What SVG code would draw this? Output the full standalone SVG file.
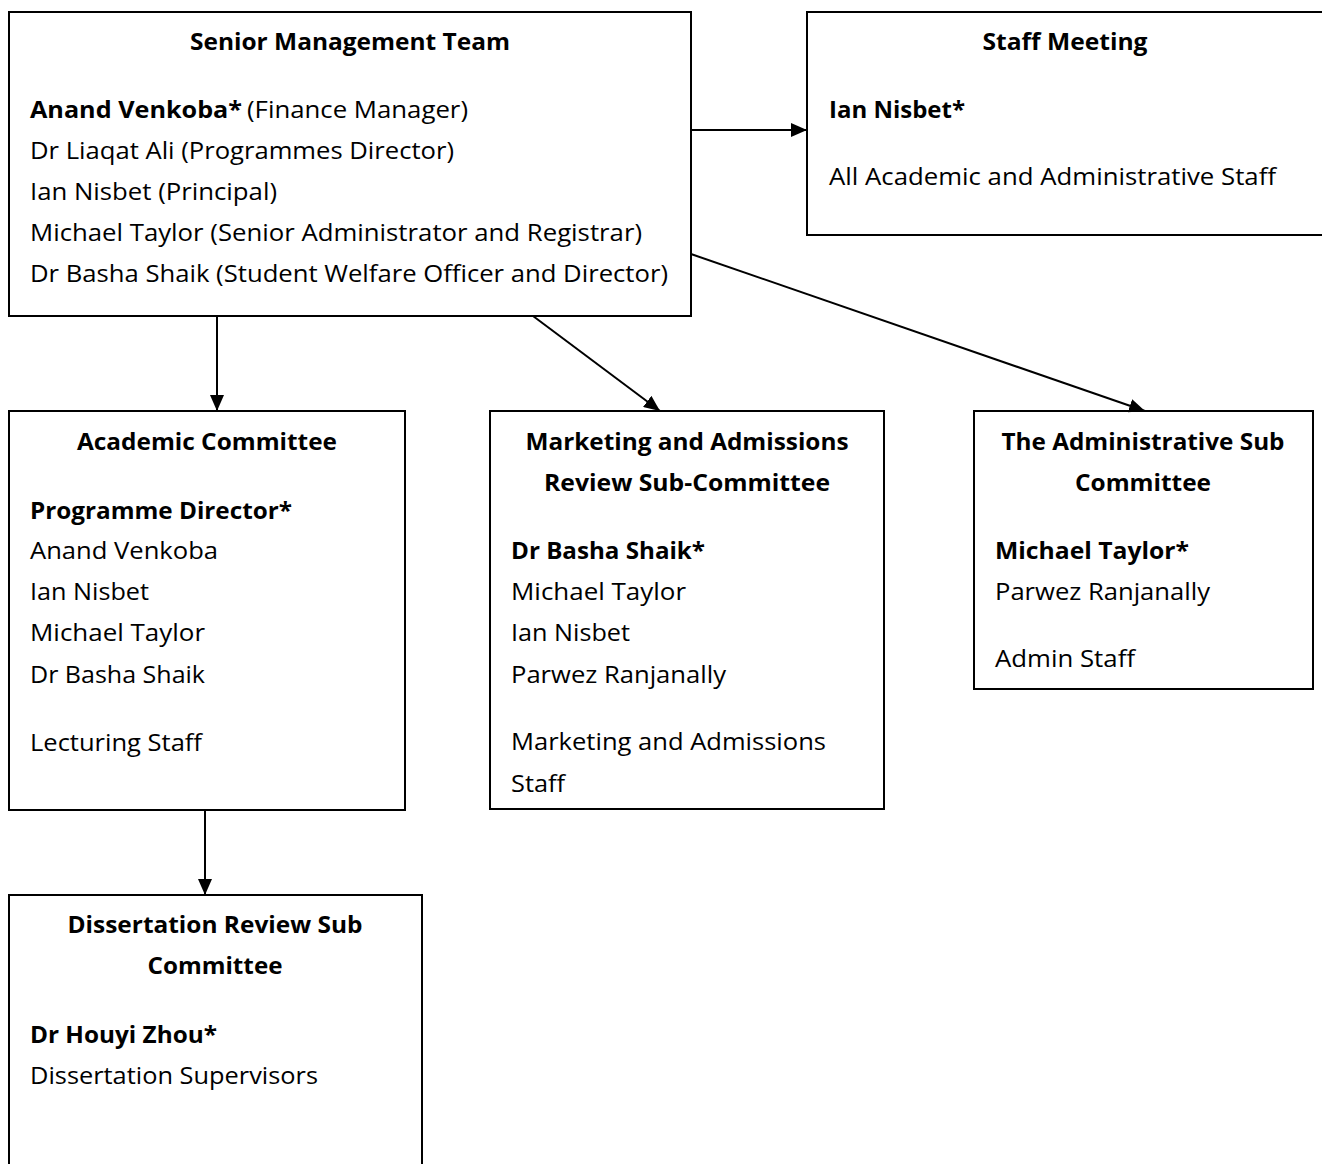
<svg xmlns="http://www.w3.org/2000/svg" width="1322" height="1164" viewBox="0 0 1322 1164">
<style>
text{font-family:"Open Sans","Liberation Sans",Arial,sans-serif;font-size:23px;fill:#000}
.b{font-weight:bold}
.c{text-anchor:middle}
rect{fill:#fff;stroke:#000;stroke-width:2}
.e line{stroke:#000;stroke-width:2;marker-end:url(#ah)}
</style>
<defs>
<marker id="ah" viewBox="0 0 10 10" refX="10" refY="5" markerWidth="16" markerHeight="14" markerUnits="userSpaceOnUse" orient="auto" preserveAspectRatio="none">
<path d="M0,0 L10,5 L0,10 z" fill="#000"/>
</marker>
</defs>
<rect x="0" y="0" width="1322" height="1164" style="stroke:none"/>
<g id="smt">
<rect x="9" y="12" width="682" height="304"/>
<text class="b c" x="350" y="50" textLength="320" lengthAdjust="spacingAndGlyphs">Senior Management Team</text>
<text class="b" x="30" y="118" textLength="212" lengthAdjust="spacingAndGlyphs">Anand Venkoba*</text>
<text x="247" y="118" textLength="221" lengthAdjust="spacingAndGlyphs">(Finance Manager)</text>
<text x="30" y="159" textLength="424" lengthAdjust="spacingAndGlyphs">Dr Liaqat Ali (Programmes Director)</text>
<text x="30" y="200" textLength="247" lengthAdjust="spacingAndGlyphs">Ian Nisbet (Principal)</text>
<text x="30" y="241" textLength="612" lengthAdjust="spacingAndGlyphs">Michael Taylor (Senior Administrator and Registrar)</text>
<text x="30" y="282" textLength="638" lengthAdjust="spacingAndGlyphs">Dr Basha Shaik (Student Welfare Officer and Director)</text>
</g>
<g id="staff">
<rect x="807" y="12" width="520" height="223"/>
<text class="b c" x="1065" y="50" textLength="165" lengthAdjust="spacingAndGlyphs">Staff Meeting</text>
<text class="b" x="829" y="118" textLength="136" lengthAdjust="spacingAndGlyphs">Ian Nisbet*</text>
<text x="829" y="185" textLength="447" lengthAdjust="spacingAndGlyphs">All Academic and Administrative Staff</text>
</g>
<g id="academic">
<rect x="9" y="411" width="396" height="399"/>
<text class="b c" x="207" y="450" textLength="260" lengthAdjust="spacingAndGlyphs">Academic Committee</text>
<text class="b" x="30" y="519" textLength="262" lengthAdjust="spacingAndGlyphs">Programme Director*</text>
<text x="30" y="559" textLength="188" lengthAdjust="spacingAndGlyphs">Anand Venkoba</text>
<text x="30" y="600" textLength="119" lengthAdjust="spacingAndGlyphs">Ian Nisbet</text>
<text x="30" y="641" textLength="175" lengthAdjust="spacingAndGlyphs">Michael Taylor</text>
<text x="30" y="683" textLength="175" lengthAdjust="spacingAndGlyphs">Dr Basha Shaik</text>
<text x="30" y="751" textLength="172" lengthAdjust="spacingAndGlyphs">Lecturing Staff</text>
</g>
<g id="marketing">
<rect x="490" y="411" width="394" height="398"/>
<text class="b c" x="687" y="450" textLength="323" lengthAdjust="spacingAndGlyphs">Marketing and Admissions</text>
<text class="b c" x="687" y="491" textLength="286" lengthAdjust="spacingAndGlyphs">Review Sub-Committee</text>
<text class="b" x="511" y="559" textLength="194" lengthAdjust="spacingAndGlyphs">Dr Basha Shaik*</text>
<text x="511" y="600" textLength="175" lengthAdjust="spacingAndGlyphs">Michael Taylor</text>
<text x="511" y="641" textLength="119" lengthAdjust="spacingAndGlyphs">Ian Nisbet</text>
<text x="511" y="683" textLength="215" lengthAdjust="spacingAndGlyphs">Parwez Ranjanally</text>
<text x="511" y="750" textLength="315" lengthAdjust="spacingAndGlyphs">Marketing and Admissions</text>
<text x="511" y="792" textLength="54" lengthAdjust="spacingAndGlyphs">Staff</text>
</g>
<g id="admin">
<rect x="974" y="411" width="339" height="278"/>
<text class="b c" x="1143" y="450" textLength="283" lengthAdjust="spacingAndGlyphs">The Administrative Sub</text>
<text class="b c" x="1143" y="491" textLength="136" lengthAdjust="spacingAndGlyphs">Committee</text>
<text class="b" x="995" y="559" textLength="194" lengthAdjust="spacingAndGlyphs">Michael Taylor*</text>
<text x="995" y="600" textLength="215" lengthAdjust="spacingAndGlyphs">Parwez Ranjanally</text>
<text x="995" y="667" textLength="140" lengthAdjust="spacingAndGlyphs">Admin Staff</text>
</g>
<g id="dissertation">
<rect x="9" y="895" width="413" height="290"/>
<text class="b c" x="215" y="933" textLength="295" lengthAdjust="spacingAndGlyphs">Dissertation Review Sub</text>
<text class="b c" x="215" y="974" textLength="135" lengthAdjust="spacingAndGlyphs">Committee</text>
<text class="b" x="30" y="1043" textLength="187" lengthAdjust="spacingAndGlyphs">Dr Houyi Zhou*</text>
<text x="30" y="1084" textLength="288" lengthAdjust="spacingAndGlyphs">Dissertation Supervisors</text>
</g>
<g class="e" id="connectors">
<line x1="691" y1="130" x2="807" y2="130"/>
<line x1="217" y1="316" x2="217" y2="411"/>
<line x1="533" y1="316" x2="660" y2="411"/>
<line x1="691" y1="254" x2="1145" y2="411"/>
<line x1="205" y1="810" x2="205" y2="895"/>
</g>
</svg>
